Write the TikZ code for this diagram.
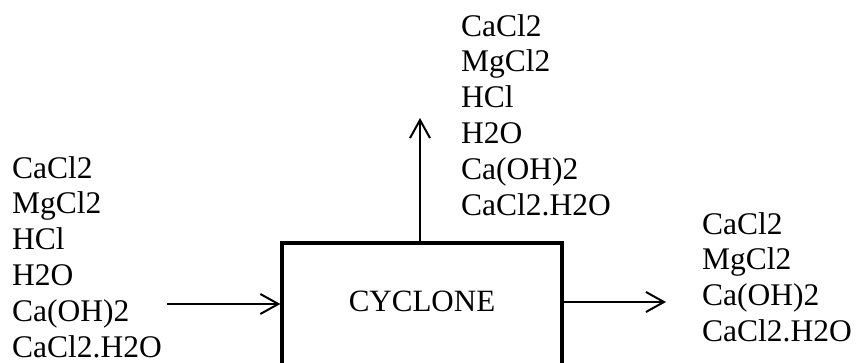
\documentclass[tikz,border=0pt]{standalone}
\usepackage{fontspec}
\setmainfont{Liberation Serif}
\usepackage{tikz}
\usetikzlibrary{arrows.meta}

\begin{document}
\begin{tikzpicture}[x=1pt,y=1pt,
    stream/.style={font=\fontsize{31.5}{35.8}\selectfont,align=left,inner sep=0pt,anchor=north west},
    flow/.style={line width=2pt,-{Straight Barb[length=18pt,width=20pt,line width=2pt]}},
    unitbox/.style={draw,line width=3.2pt,font=\fontsize{31}{36}\selectfont,inner sep=0pt}]
    \useasboundingbox (0,0) rectangle (856,363);
    \clip (0,0) rectangle (856,363);
    \node[unitbox,minimum width=280pt,text height=69pt,text depth=80pt,anchor=base] (cyclone) at (422,51) {CYCLONE};
    \node[stream] (feed) at (12,207) {CaCl2\\MgCl2\\HCl\\H2O\\Ca(OH)2\\CaCl2.H2O};
    \node[stream] (vapour) at (461,349) {CaCl2\\MgCl2\\HCl\\H2O\\Ca(OH)2\\CaCl2.H2O};
    \node[stream] (solids) at (702,151) {CaCl2\\MgCl2\\Ca(OH)2\\CaCl2.H2O};
    \coordinate (feedend) at (167,59);
    \coordinate (topend) at (420,245);
    \coordinate (outend) at (666,61);
    \draw[flow] (feedend) -- (feedend -| cyclone.west);
    \draw[flow] (topend |- cyclone.north) -- (topend);
    \draw[flow] (outend -| cyclone.east) -- (outend);
\end{tikzpicture}
\end{document}
